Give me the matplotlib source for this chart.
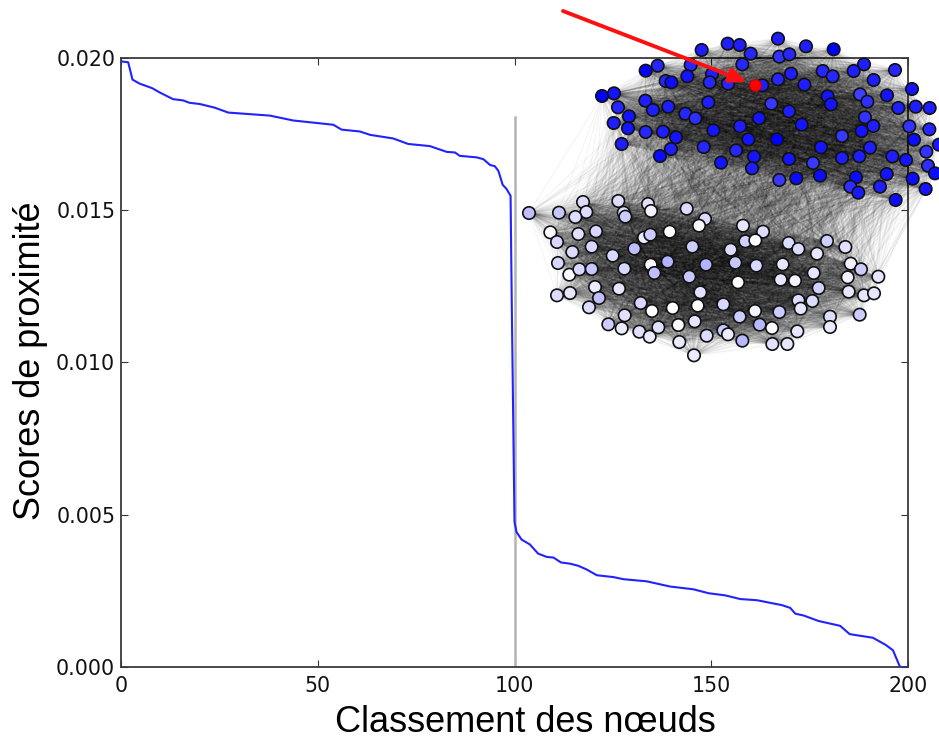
"""Proximity scores by node rank, with the two-community graph pasted on top."""

import matplotlib
matplotlib.use("Agg")
from itertools import combinations

import matplotlib.pyplot as plt
import numpy as np
from matplotlib.collections import LineCollection
from matplotlib.colors import LinearSegmentedColormap

# Curve
RANK = [0, 1.9, 3, 4.8, 8, 9.9, 13.3, 15.8, 17.5, 20.1, 23.9, 27.3, 37.9, 43.8, 54, 56.1,
        60.7, 63.3, 69.2, 73, 78.5, 82.8, 84.9, 86.1, 90.4, 92.1, 93.8, 95, 95.9, 97, 98, 99,
        99.3, 100, 100.5, 101.8, 103.9, 106, 108.2, 109.9, 111.8, 114.1, 116.2, 118.3, 120.9,
        125.1, 127.7, 133.6, 139.5, 145.4, 149.3, 153.5, 157.3, 161.6, 167.9, 170, 171.3,
        173.4, 177.2, 182.7, 185.1, 187, 191, 194.2, 196.1, 197.8, 198.2, 200]
SCORE = [.01988, .01985, .01928, .01915, .019, .01886, .01864, .0186, .01852, .01848, .01836,
         .0182, .0181, .01794, .0178, .01764, .01758, .01747, .01735, .01717, .0171, .01691,
         .01689, .01678, .01673, .01667, .01648, .01644, .01629, .01583, .01569, .01547,
         .0120, .00477, .00444, .00419, .00403, .00373, .00362, .0036, .00344, .0034, .00333,
         .00321, .00302, .00296, .00289, .00282, .00265, .00256, .00243, .00236, .00224, .0022,
         .00204, .00195, .00176, .0017, .00152, .00136, .00109, .00105, .00097, .00074, .00056,
         .00004, 0, 0]

# Graph nodes, in units of the 3x crops of the picture, (x, y, shade)
DARK_X = [594, 678, 761, 443, 479, 365, 512, 598, 628, 852, 945, 821, 728, 758, 881, 996, 487, 332,
          233, 197, 396, 322, 257, 274, 389, 444, 547, 594, 633, 673, 66, 102, 196, 265, 219, 385,
          574, 627, 743, 753, 840, 862, 921, 955, 1007, 1049, 114, 147, 101, 144, 197, 249, 288,
          316, 346, 400, 480, 537, 665, 855, 880, 845, 786, 988, 1048, 1002, 125, 273, 240, 371,
          468, 505, 591, 723, 870, 1077, 1039, 522, 423, 516, 627, 699, 786, 838, 937, 978, 1044,
          1065, 598, 649, 720, 828, 811, 835, 900, 920, 998, 1037, 947]
DARK_Y = [116, 139, 148, 131, 135, 150, 161, 170, 163, 193, 210, 213, 213, 229, 240, 267, 193, 195,
          197, 212, 222, 229, 243, 247, 247, 251, 256, 238, 221, 254, 288, 280, 302, 320, 330, 307,
          311, 334, 289, 313, 283, 305, 286, 324, 320, 324, 322, 349, 369, 385, 396, 395, 412,
          341, 355, 391, 379, 355, 374, 352, 378, 393, 408, 379, 388, 419, 432, 447, 468, 441,
          451, 418, 418, 442, 443, 434, 455, 470, 488, 505, 477, 489, 474, 469, 469, 480, 497,
          520, 540, 535, 527, 532, 560, 578, 560, 522, 536, 567, 600]
DARK_SHADE = [.88, .88, 1, .88, .88, .88, .85, .8, .85, .88, .85, .88, .85, .85, .88, .92, .85, .85,
              .85, 1, .88, .92, .85, .95, .85, .85, .88, .85, .88, .88, 1, .92, .88, .88, .88, .88,
              .78, .88, .92, .92, .75, .82, .92, .88, .88, .88, .85, .92, .88, .92, .85, .88, .92,
              .85, .82, .92, .88, .92, .92, .8, .88, .92, .78, .8, .85, .95, .88, .88, .95, .85,
              .85, .92, 1, .92, .88, .9, .8, .92, .92, .88, .92, .78, .88, .88, .88, .92, .82,
              .95, .78, .95, .95, .95, .82, .9, .88, .92, .95, .92, .95]
RED_NODE = (524, 255)

LIGHT_X = [57, 147, 219, 229, 196, 325, 341, 346, 414, 423, 530, 585, 567, 699, 759, 121, 205, 258,
           141, 187, 245, 308, 373, 402, 421, 479, 547, 662, 706, 736, 836, 865, 951, 1006, 921,
           144, 178, 208, 245, 343, 422, 433, 473, 588, 676, 739, 818, 1022, 1053, 1105, 911, 1013,
           538, 684, 812, 855, 926, 255, 327, 141, 180, 267, 571, 1016, 1062, 1092, 237, 392, 426,
           488, 563, 640, 865, 907, 872, 344, 689, 735, 808, 960, 1049, 295, 335, 388, 419, 445,
           505, 554, 749, 786, 960, 640, 654, 590, 862, 508, 697, 787, 832, 552]
LIGHT_Y = [69, 68, 36, 66, 81, 33, 68, 80, 42, 63, 56, 87, 107, 107, 125, 127, 132, 124,
           156, 186, 170, 197, 176, 143, 134, 125, 170, 179, 154, 151, 159, 177, 153, 171, 191,
           219, 254, 238, 237, 236, 224, 249, 215, 224, 218, 227, 223, 221, 238, 260, 249, 262,
           260, 277, 269, 272, 294, 291, 296, 316, 309, 324, 307, 305, 316, 310, 352, 339, 363,
           354, 347, 343, 331, 333, 356, 376, 380, 363, 366, 380, 374, 403, 415, 425, 440, 412,
           405, 394, 404, 414, 411, 421, 433, 437, 424, 456, 452, 462, 462, 496]
LIGHT_SHADE = [.25, .22, .14, .14, .14, .14, .12, .2, .12, .05, .14, .14, .03, .1, .14, .03, .12, .16,
               .16, .14, .16, .16, .25, .08, .2, 0, .2, .14, .18, 0, .14, .14, .18, .12, .1,
               .16, .03, .16, .22, .16, .03, .25, .3, .3, .22, .16, .1, .06, .2, .1, .1, .06,
               .22, 0, .1, .05, .18, .08, .1, .14, .1, .25, .12, .1, .1, .1, .14, .16, 0,
               0, 0, .16, .14, .14, .1, .12, .2, .05, .2, .14, .2, .2, .08, .12, .08, .12,
               .02, .1, .28, .03, .08, .22, .08, .14, .1, .08, .28, .12, .1, .08]

ARROW_START = (563, 11)
ARROW_TIP = (747, 82)


def main() -> None:
    fig = plt.figure(figsize=(9.39, 7.4), dpi=100)
    ax = fig.add_axes([120.7 / 939, 72.7 / 740, 787.6 / 939, 609.6 / 740])

    ax.plot(RANK, SCORE, color="#2222ff", lw=1.5, zorder=3)
    ax.plot([100, 100], [0, 0.01807], color="#b4b4b4", lw=1.8, zorder=2)
    ax.set_xlim(0, 200)
    ax.set_ylim(0, 0.02)
    ax.set_xticks([0, 50, 100, 150, 200])
    ax.set_yticks([0, 0.005, 0.01, 0.015, 0.02])
    ax.set_yticklabels(["0.000", "0.005", "0.010", "0.015", "0.020"])
    ax.tick_params(direction="in", top=True, right=True, length=5, width=0.8,
                   labelsize=14.8, labelcolor="#111111", color="#333333")
    ax.tick_params(axis="x", pad=6)
    ax.tick_params(axis="y", pad=4)
    for spine in ax.spines.values():
        spine.set_linewidth(1.3)
        spine.set_color("#3a3a3a")
    ax.set_xlabel("Classement des nœuds", family="Liberation Sans", fontsize=26)
    ax.set_ylabel("Scores de proximité", family="Liberation Sans", fontsize=26)
    # labels are not centred on the axes in the reference
    ax.xaxis.set_label_coords(0.5135, -0.0615)
    ax.yaxis.set_label_coords(-0.092, 0.503)

    # ---- graph overlay, in picture pixels ----
    net = fig.add_axes([0, 0, 1, 1])
    net.set_xlim(0, 939)
    net.set_ylim(740, 0)
    net.axis("off")
    net.patch.set_alpha(0)

    dark = np.column_stack([np.array(DARK_X + [RED_NODE[0]]) / 3 + 580,
                            np.array(DARK_Y + [RED_NODE[1]]) / 3])
    light = np.column_stack([np.array(LIGHT_X) / 3 + 510, np.array(LIGHT_Y) / 3 + 190])

    # dense inside each community, sparse between them
    inner = [(dark[i], dark[j]) for i, j in combinations(range(len(dark)), 2)]
    inner += [(light[i], light[j]) for i, j in combinations(range(len(light)), 2)]
    cross = [(dark[i], light[j]) for i in range(len(dark)) for j in range(len(light))
             if (i * 3 + j) % 5 == 0]
    net.add_collection(LineCollection(inner, colors="k", linewidths=0.9, alpha=0.036, zorder=1))
    net.add_collection(LineCollection(cross, colors="k", linewidths=0.9, alpha=0.045, zorder=1))

    cmap = LinearSegmentedColormap.from_list("wb", ["#ffffff", "#0000ff"])
    net.scatter(dark[:-1, 0], dark[:-1, 1], c=DARK_SHADE, cmap=cmap, vmin=0, vmax=1, s=80,
                edgecolors="#111111", linewidths=1.2, zorder=3)
    net.scatter(light[:, 0], light[:, 1], c=LIGHT_SHADE, cmap=cmap, vmin=0, vmax=1, s=80,
                edgecolors="#111111", linewidths=1.2, zorder=3)
    net.scatter(dark[-1, 0], dark[-1, 1], color="#ff0000", s=70,
                edgecolors="#cc0000", linewidths=0.8, zorder=6)
    net.annotate("", xy=ARROW_TIP, xytext=ARROW_START, zorder=5,
                 arrowprops=dict(arrowstyle="-|>,head_length=1.0,head_width=0.42", color="#ff1010",
                                 lw=2.8, shrinkA=0, shrinkB=0))

    fig.savefig("out.png", dpi=100)
    plt.close(fig)


if __name__ == "__main__":
    main()
